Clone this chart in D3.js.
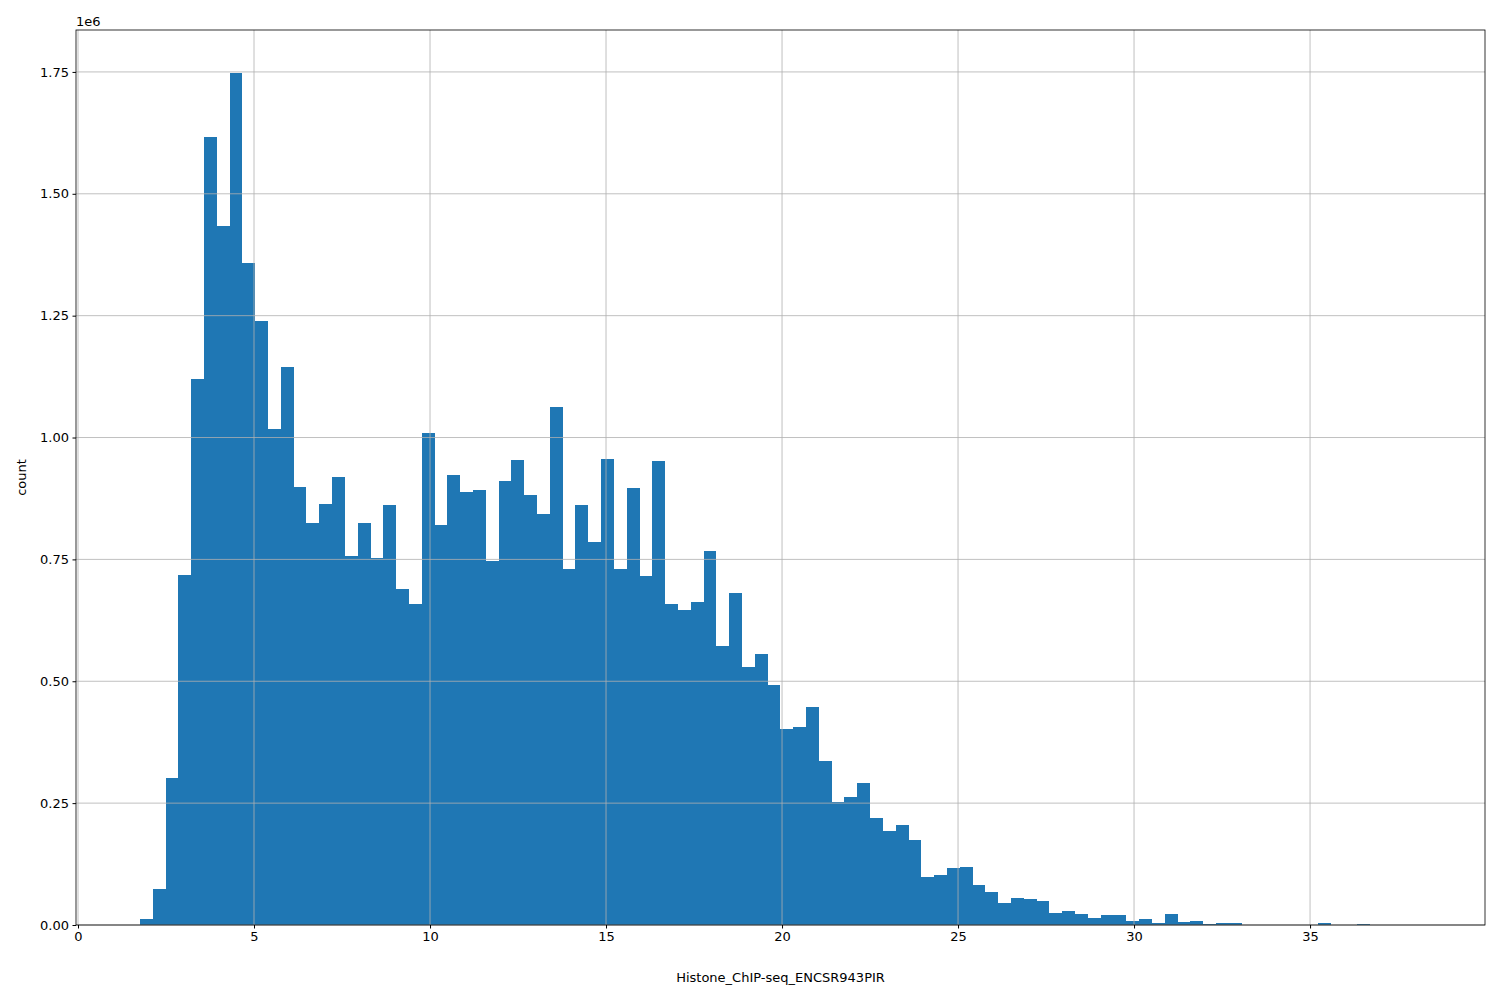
<!DOCTYPE html>
<html><head><meta charset="utf-8">
<script src="https://cdn.jsdelivr.net/npm/d3@7"></script>
<style>body{margin:0;background:#fff}text{font-family:"DejaVu Sans",sans-serif}</style>
</head><body><svg id="c" width="1500" height="1000"></svg>
<script>
const binStart = 1.76, binWidth = 0.3639;
const counts = [0.012,0.074,0.302,0.718,1.12,1.617,1.434,1.748,1.358,1.239,
1.018,1.145,0.899,0.825,0.864,0.919,0.757,0.825,0.753,0.862,
0.689,0.659,1.009,0.821,0.923,0.888,0.892,0.747,0.911,0.954,
0.882,0.843,1.063,0.730,0.862,0.786,0.956,0.730,0.897,0.716,
0.952,0.659,0.646,0.663,0.767,0.572,0.681,0.530,0.556,0.492,
0.402,0.406,0.447,0.336,0.252,0.263,0.291,0.220,0.193,0.205,
0.174,0.098,0.103,0.117,0.119,0.082,0.068,0.045,0.055,0.053,
0.049,0.025,0.029,0.023,0.014,0.021,0.021,0.008,0.012,0.004,
0.023,0.006,0.008,0.002,0.004,0.004,0.001,0.001,0.001,0.001,
0.001,0.001,0.004,0.001,0.001,0.002,0.001,0.0005,0.0005,0.0005];
const xTicks = [0,5,10,15,20,25,30,35];
const yTicks = [0,0.25,0.5,0.75,1.0,1.25,1.5,1.75];
const L=76,R=1485,T=30,B=925;
const svg=d3.select("#c");
const x=d3.scaleLinear().domain([-0.057,39.97]).range([L,R]);
const y=d3.scaleLinear().domain([0,1.836]).range([B,T]);
const bw=(i)=>Math.round(x(binStart+(i+1)*binWidth))-Math.round(x(binStart+i*binWidth));
svg.append("g").attr("shape-rendering","crispEdges").selectAll("rect").data(counts).join("rect")
 .attr("x",(d,i)=>Math.round(x(binStart+i*binWidth))).attr("width",(d,i)=>bw(i))
 .attr("y",d=>y(d)).attr("height",d=>B-y(d)).attr("fill","#1f77b4");
const g=svg.append("g");
xTicks.forEach(t=>g.append("line").attr("x1",x(t)).attr("x2",x(t)).attr("y1",T).attr("y2",B).attr("stroke","#b0b0b0").attr("stroke-width",0.8));
yTicks.forEach(t=>g.append("line").attr("x1",L).attr("x2",R).attr("y1",y(t)).attr("y2",y(t)).attr("stroke","#b0b0b0").attr("stroke-width",0.8));
const xa=svg.append("g").attr("transform",`translate(0,${B})`).call(d3.axisBottom(x).tickValues(xTicks).tickSize(3.5).tickPadding(3.5).tickFormat(d3.format("d")));
const ya=svg.append("g").attr("transform",`translate(${L},0)`).call(d3.axisLeft(y).tickValues(yTicks).tickSize(3.5).tickPadding(3.5).tickFormat(d3.format(".2f")));
[xa,ya].forEach(a=>{a.select(".domain").remove();a.selectAll("text").attr("font-size",13).attr("fill","#000");});
svg.append("rect").attr("x",L).attr("y",T).attr("width",R-L).attr("height",B-T).attr("fill","none").attr("stroke","#000").attr("stroke-width",0.8);
svg.append("text").attr("x",L).attr("y",T-4).attr("font-size",13).text("1e6");
svg.append("text").attr("x",(L+R)/2).attr("y",982).attr("text-anchor","middle").attr("font-size",13).text("Histone_ChIP-seq_ENCSR943PIR");
svg.append("text").attr("transform",`translate(26,${(T+B)/2}) rotate(-90)`).attr("text-anchor","middle").attr("font-size",13).text("count");
</script></body></html>
